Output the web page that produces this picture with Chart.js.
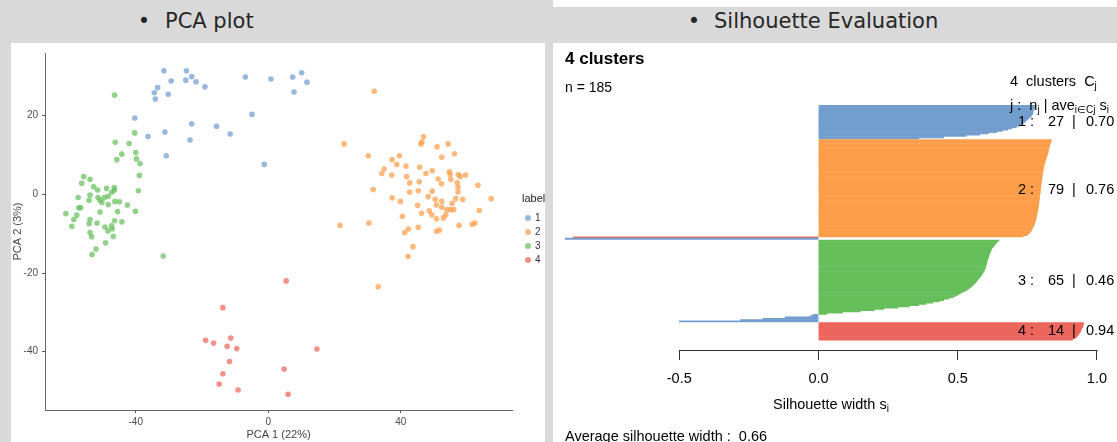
<!DOCTYPE html>
<html>
<head>
<meta charset="utf-8">
<script src="https://cdn.jsdelivr.net/npm/chart.js@4.4.1/dist/chart.umd.min.js"></script>
<style>
  html, body { margin: 0; padding: 0; }
  body { width: 1117px; height: 442px; background: #d9d9d9; position: relative; overflow: hidden;
         font-family: "Liberation Sans", Arial, sans-serif; color: #000; }
  .abs { position: absolute; white-space: nowrap; line-height: 1.2; }
  .mid { transform: translateY(-50%); }
  .ctr { transform: translate(-50%, -50%); }
  .head { font-family: "DejaVu Sans", sans-serif; font-size: 21px; font-weight: normal; color: #262626; }
  .panel { position: absolute; top: 43px; height: 399px; background: #fff; overflow: hidden; }
  canvas { position: absolute; left: 0; top: 0; }
  sub { font-size: 10px; vertical-align: -3px; line-height: 0; }
  .dot { position: absolute; width: 6px; height: 6px; border-radius: 50%; transform: translate(-50%, -50%); }
</style>
</head>
<body>
<div class="abs" style="left:553px;top:0;width:564px;height:7px;background:#fff;"></div>
<div class="abs head ctr" style="left:144px;top:22px;">&bull;</div>
<div class="abs head mid" style="left:165px;top:22px;">PCA plot</div>
<div class="abs head ctr" style="left:694px;top:22px;">&bull;</div>
<div class="abs head mid" style="left:714px;top:22px;">Silhouette Evaluation</div>

<div class="panel" style="left:11px;width:534px;">
  <canvas id="pca" width="534" height="399"></canvas>
  <div id="pcaLegend"></div>
</div>

<div class="panel" style="left:553px;width:564px;">
  <canvas id="sil" width="564" height="399"></canvas>
  <div class="abs mid" style="left:12px;top:16px;font-weight:bold;font-size:17px;">4 clusters</div>
  <div class="abs mid" id="nText" style="left:12px;top:44px;font-size:14px;"></div>
  <div class="abs mid" style="left:457px;top:39px;font-size:14.5px;">4&nbsp; clusters&nbsp; C<sub>j</sub></div>
  <div class="abs mid" style="left:457px;top:63px;font-size:14.5px;">j :&nbsp; n<sub>j</sub> | ave<sub>i&isin;Cj</sub> s<sub>i</sub></div>
  <div class="abs ctr" style="left:278px;top:362px;font-size:14.5px;">Silhouette width s<sub>i</sub></div>
  <div class="abs mid" id="avgText" style="left:12px;top:394px;font-size:14.5px;"></div>
</div>

<script>
(function () {
    'use strict';

    // ---- PCA scatter data: [PCA 1, PCA 2] per sample, by cluster label ----
    var pcaLabels = ['1', '2', '3', '4'];
    var pcaCluster1 = [[-31.5,31.4],[-24.7,31.4],[-23.1,29.9],[-24.9,29.0],[-21.8,28.6],[-29.3,28.8],[-33.4,27.1],
        [-34.4,25.8],[-34.1,24.2],[-30.2,25.4],[-19.1,27.3],[-6.9,29.8],[0.8,29.3],[-4.9,20.3],[-40.3,19.4],
        [-36.3,14.7],[-31.2,15.8],[-23.1,17.9],[-23.6,13.8],[-15.6,17.3],[-11.5,15.3],[-30.8,9.8],[-1.2,7.6],
        [7.4,29.8],[10.1,30.9],[11.7,28.5],[7.8,26.0]];
    var pcaCluster2 = [[32.0,26.2],[22.9,12.8],[30.2,9.8],[46.9,14.6],[46.4,13.3],[46.1,12.8],[51.0,12.1],[54.3,12.8],
        [56.2,10.3],[52.4,9.4],[39.6,9.8],[37.4,8.8],[38.8,7.6],[41.6,7.2],[45.7,6.9],[35.0,6.4],[34.3,5.3],[37.3,4.9],
        [41.8,4.5],[47.6,5.3],[49.5,6.0],[54.7,5.7],[54.9,5.1],[57.4,5.0],[58.0,4.5],[59.6,4.9],[42.7,2.9],[45.6,3.2],
        [51.3,3.9],[55.1,3.8],[57.1,2.9],[52.3,2.7],[57.3,1.8],[63.3,2.3],[31.7,1.2],[42.7,0.6],[45.3,0.9],[49.5,0.8],
        [57.3,0.6],[48.3,-0.6],[37.4,-0.9],[39.9,-1.8],[50.4,-1.3],[52.4,-1.8],[56.6,-1.1],[58.7,-1.3],[67.3,-1.1],
        [45.1,-2.8],[50.8,-2.7],[55.5,-2.3],[52.4,-3.3],[53.9,-3.9],[55.0,-3.9],[56.0,-3.9],[48.6,-4.2],[46.3,-4.8],
        [49.4,-5.2],[63.7,-4.1],[40.5,-5.6],[53.6,-5.2],[52.9,-6.0],[50.8,-6.2],[21.7,-7.9],[30.4,-7.3],[42.3,-8.8],
        [45.3,-8.4],[41.2,-9.7],[50.8,-9.4],[51.7,-9.1],[57.6,-7.9],[61.6,-7.6],[62.4,-7.3],[43.7,-13.3],[42.2,-15.8],
        [33.2,-23.5]];
    var pcaCluster3 = [[-46.4,25.2],[-40.3,15.6],[-46.2,13.2],[-42.0,12.9],[-44.2,10.2],[-40.0,10.6],[-39.8,9.0],
        [-45.7,8.8],[-38.7,7.8],[-38.9,4.8],[-55.7,4.5],[-53.8,3.8],[-56.3,2.8],[-52.7,1.9],[-51.5,1.1],[-48.8,1.5],
        [-46.5,1.7],[-46.4,1.1],[-39.2,0.9],[-47.2,0.5],[-57.4,-0.8],[-53.8,-0.2],[-54.1,-1.5],[-51.4,-0.8],[-49.5,-0.8],
        [-48.3,-0.5],[-50.8,-1.5],[-50.2,-2.1],[-46.3,-1.8],[-44.9,-1.9],[-48.3,-2.6],[-42.5,-2.7],[-57.2,-3.4],
        [-56.6,-3.4],[-50.8,-4.5],[-45.5,-4.4],[-40.1,-4.3],[-61.1,-4.9],[-57.8,-5.3],[-58.7,-6.4],[-53.8,-6.4],
        [-46.4,-6.7],[-44.2,-7.0],[-51.7,-7.3],[-54.1,-7.5],[-59.3,-8.1],[-49.3,-8.3],[-47.3,-8.0],[-47.1,-8.8],
        [-48.4,-9.3],[-53.8,-9.7],[-53.3,-10.8],[-46.8,-10.7],[-49.1,-12.3],[-52.0,-13.9],[-53.2,-15.3],[-31.7,-15.7]];
    var pcaCluster4 = [[-13.7,-28.8],[-18.9,-37.1],[-16.5,-37.8],[-11.3,-36.5],[-12.4,-38.6],[-9.5,-39.2],[-11.7,-42.5],
        [-13.7,-45.6],[-14.8,-48.2],[-9.1,-49.7],[5.4,-22.0],[4.8,-44.4],[6.0,-50.8],[14.7,-39.3]];
    var pcaXTicks = [-40, 0, 40];
    var pcaYTicks = [-40, -20, 0, 20];

    // ---- silhouette widths, sorted within each cluster ----
    var silCluster1 = [0.78,0.78,0.775,0.775,0.77,0.77,0.77,0.768,0.765,0.76,0.755,0.75,0.745,0.74,0.735,0.728,
        0.72,0.71,0.695,0.68,0.66,0.64,0.61,0.58,0.53,0.45,0.36];
    var silCluster2 = [0.836,0.835,0.834,0.832,0.830,0.829,0.828,0.827,0.826,0.825,0.824,0.822,0.821,0.819,0.818,
        0.816,0.815,0.814,0.812,0.811,0.810,0.809,0.808,0.807,0.806,0.806,0.805,0.804,0.804,0.803,0.802,0.802,
        0.801,0.800,0.800,0.799,0.799,0.798,0.798,0.797,0.797,0.796,0.796,0.795,0.794,0.794,0.793,0.793,0.792,
        0.792,0.791,0.790,0.790,0.789,0.788,0.788,0.787,0.786,0.785,0.784,0.783,0.782,0.781,0.780,0.779,0.777,
        0.776,0.774,0.772,0.770,0.768,0.766,0.763,0.760,0.755,0.748,0.735,-0.88,-0.91];
    var silCluster3 = [0.648,0.642,0.638,0.634,0.631,0.627,0.623,0.621,0.619,0.617,0.615,0.613,0.612,0.611,0.609,
        0.607,0.606,0.605,0.604,0.603,0.601,0.600,0.599,0.597,0.595,0.592,0.589,0.586,0.583,0.580,0.576,0.572,
        0.568,0.565,0.561,0.556,0.551,0.547,0.541,0.534,0.526,0.517,0.509,0.500,0.491,0.482,0.468,0.450,0.434,
        0.410,0.386,0.360,0.326,0.285,0.235,0.200,0.150,0.087,0.030,-0.02,-0.03,-0.12,-0.20,-0.28,-0.50];
    var silCluster4 = [0.952,0.951,0.950,0.948,0.946,0.944,0.942,0.940,0.937,0.934,0.930,0.926,0.920,0.912];
    var silAverages = ['0.70', '0.76', '0.46', '0.94'];
    var silOverall = '0.66';
    var silTicks = [-0.5, 0, 0.5, 1.0];
    // colour group of the trailing (negative) bars of each cluster
    var strayGroups = [[], [3, 0], [0, 0, 0, 0, 0, 0], []];

    var barColours = ['#729ece', '#ff9e4a', '#67bf5c', '#ed665d'];
    var dotColours = ['rgba(114,158,206,0.72)', 'rgba(255,158,74,0.72)', 'rgba(103,191,92,0.72)', 'rgba(237,102,93,0.72)'];
    var FONT = '"Liberation Sans", Arial, sans-serif';

    // ---------- PCA scatter ----------
    var pcaClusters = [pcaCluster1, pcaCluster2, pcaCluster3, pcaCluster4];
    new Chart(document.getElementById('pca'), {
        type: 'scatter',
        data: {
            datasets: pcaClusters.map(function (pts, k) {
                return {
                    label: pcaLabels[k],
                    data: pts.map(function (p) { return { x: p[0], y: p[1] }; }),
                    backgroundColor: dotColours[k],
                    borderWidth: 0,
                    pointRadius: 2.8
                };
            })
        },
        options: {
            responsive: false,
            animation: false,
            layout: { padding: { left: 0, top: 4, right: 33, bottom: 0 } },
            plugins: { legend: { display: false }, tooltip: { enabled: false } },
            scales: {
                x: {
                    type: 'linear', min: -67.4, max: 73.6,
                    afterBuildTicks: function (s) { s.ticks = pcaXTicks.map(function (v) { return { value: v }; }); },
                    afterFit: function (s) { s.height = 32; },
                    grid: { drawOnChartArea: false, drawTicks: true, tickLength: 3, color: '#555' },
                    border: { display: true, color: '#666', width: 1 },
                    ticks: { color: '#4d4d4d', font: { size: 10, family: FONT }, padding: 3, maxRotation: 0 },
                    title: { display: true, text: 'PCA 1 (22%)', color: '#444', font: { size: 11, family: FONT }, padding: 0 }
                },
                y: {
                    type: 'linear', min: -54.8, max: 35.9,
                    afterBuildTicks: function (s) { s.ticks = pcaYTicks.map(function (v) { return { value: v }; }); },
                    afterFit: function (s) { s.width = 34; },
                    grid: { drawOnChartArea: false, drawTicks: true, tickLength: 3, color: '#555' },
                    border: { display: true, color: '#666', width: 1 },
                    ticks: { color: '#4d4d4d', font: { size: 10, family: FONT }, padding: 4 },
                    title: { display: true, text: 'PCA 2 (3%)', color: '#444', font: { size: 11, family: FONT }, padding: 0 }
                }
            }
        }
    });

    // legend for the scatter (ggplot style, cut by the panel edge)
    var leg = document.getElementById('pcaLegend');
    var html = '<div class="abs mid" style="left:511px;top:156px;font-size:11px;color:#222;">label</div>';
    pcaLabels.forEach(function (lab, k) {
        var y = 174.5 + k * 14;
        html += '<div class="dot" style="left:517px;top:' + y + 'px;background:' + dotColours[k] + ';"></div>';
        html += '<div class="abs mid" style="left:524px;top:' + y + 'px;font-size:10px;color:#333;">' + lab + '</div>';
    });
    leg.innerHTML = html;

    // ---------- silhouette plot ----------
    var silClusters = [silCluster1, silCluster2, silCluster3, silCluster4];
    var clusterGap = 0.5, axisGap = 7.7;
    var bars = [], cols = [], centres = [], pos = 0, total = 0;
    silClusters.forEach(function (vals, c) {
        if (c > 0) { pos += clusterGap; }
        var start = pos, stray = strayGroups[c], firstStray = vals.length - stray.length;
        vals.forEach(function (v, i) {
            bars.push({ x: v, y: pos });
            cols.push(barColours[i >= firstStray ? stray[i - firstStray] : c]);
            pos += 1;
        });
        centres.push((start + pos - 1) / 2);
        total += vals.length;
    });
    document.getElementById('nText').textContent = 'n = ' + total;
    document.getElementById('avgText').innerHTML = 'Average silhouette width :&nbsp; ' + silOverall;

    var silDecor = {
        id: 'silDecor',
        afterDraw: function (chart) {
            var ctx = chart.ctx, xs = chart.scales.x, ys = chart.scales.y;
            var yAxis = Math.round(chart.chartArea.bottom) + 0.5;
            ctx.save();
            ctx.strokeStyle = '#333';
            ctx.lineWidth = 1;
            ctx.beginPath();
            ctx.moveTo(Math.round(xs.getPixelForValue(silTicks[0])) + 0.5, yAxis);
            ctx.lineTo(Math.round(xs.getPixelForValue(silTicks[silTicks.length - 1])) + 0.5, yAxis);
            ctx.stroke();
            ctx.fillStyle = '#000';
            ctx.font = '14.5px ' + FONT;
            ctx.textBaseline = 'middle';
            centres.forEach(function (cy, k) {
                var y = ys.getPixelForValue(cy);
                ctx.textAlign = 'left';
                ctx.fillText((k + 1) + ' :', 465, y);
                ctx.fillText(String(silClusters[k].length), 495, y);
                ctx.textAlign = 'center';
                ctx.fillText('|', 521, y);
                ctx.textAlign = 'left';
                ctx.fillText(silAverages[k], 533, y);
            });
            ctx.restore();
        }
    };

    new Chart(document.getElementById('sil'), {
        type: 'bar',
        data: {
            datasets: [{
                data: bars,
                backgroundColor: cols,
                borderWidth: 0,
                barPercentage: 1,
                categoryPercentage: 1
            }]
        },
        options: {
            indexAxis: 'y',
            responsive: false,
            animation: false,
            layout: { padding: { left: 6, top: 62, right: 19, bottom: 52 } },
            plugins: { legend: { display: false }, tooltip: { enabled: false } },
            scales: {
                x: {
                    type: 'linear', min: -0.932, max: 1.0,
                    afterBuildTicks: function (s) { s.ticks = silTicks.map(function (v) { return { value: v }; }); },
                    afterFit: function (s) { s.height = 40; },
                    grid: { drawOnChartArea: false, drawTicks: true, tickLength: 10, color: '#333' },
                    border: { display: false },
                    ticks: {
                        color: '#000', font: { size: 14.5, family: FONT }, padding: 10, maxRotation: 0,
                        callback: function (v) { return Number(v).toFixed(1); }
                    }
                },
                y: {
                    type: 'linear', reverse: true, display: false, offset: false,
                    min: -0.5, max: pos - 0.5 + axisGap,
                    grid: { offset: false }
                }
            }
        },
        plugins: [silDecor]
    });
})();
</script>
</body>
</html>
